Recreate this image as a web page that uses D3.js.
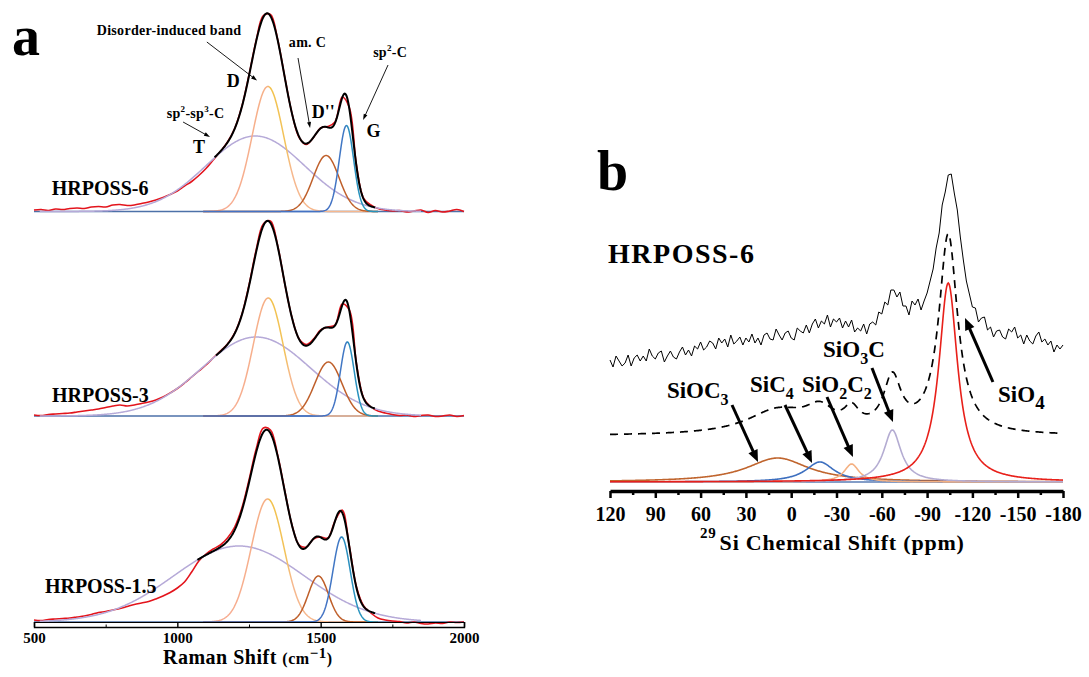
<!DOCTYPE html>
<html>
<head>
<meta charset="utf-8">
<script src="https://cdn.jsdelivr.net/npm/d3@7"></script>
<style>
  body { margin: 0; background: #fff; }
  svg text { font-family: "Liberation Serif", "Times New Roman", serif; font-weight: bold; fill: #000; }
</style>
</head>
<body>
<div id="chart"></div>
<script>
/*=============================
===DATA ==*/

// ---- panel a : Raman ----
var samples = ["HRPOSS-6", "HRPOSS-3", "HRPOSS-1.5"];
var ramanShift = d3.range(500, 2001, 25);   // measured points every 25 cm-1

var ramanMeasured6 = [1.5, 2, 1, 2.5, 2, 3, 3.5, 3, 4.5, 5,
  4.5, 6.5, 7, 6, 6.5, 8, 9.5, 11.5, 14, 17,
  20.5, 25.5, 30, 36, 43, 51.5, 60, 69.5, 83, 105,
  136.5, 171, 196, 197, 172, 134, 98, 74, 67, 74,
  83.5, 85, 89.5, 114.5, 104, 46, 13, 6.5, 3, 1.5,
  0.5, 1, -0.5, 0.5, 1.5, -1, 1, -0.5, 0.5, 2, 0];
var ramanMeasured3 = [1, 0.5, 1.5, 2, 2.5, 3, 4, 5, 6, 7,
  8.5, 10, 11, 10, 11, 12.5, 14, 16, 19, 23,
  27.5, 33, 39, 45, 51, 58, 65, 72, 83, 101.5,
  131, 166, 192, 195, 170.5, 132, 98.5, 77, 71.5, 77,
  86, 89, 91, 112, 106, 52, 18, 9, 5, 3,
  1.5, 0.5, 1, -0.5, 0.5, 1, -0.5, 0, 1, -0.5, 0.5];
var ramanMeasured15 = [2, 1.5, 2.5, 3, 3.5, 4, 5, 6, 7.5, 9.5,
  10.5, 12, 13.5, 15.5, 17.5, 19, 20.5, 23, 26, 29.5,
  34, 40, 50, 61, 68, 73, 77, 84, 95, 114,
  142, 173, 194, 192, 167, 131, 97, 77, 75, 83,
  85, 84, 101, 112, 76, 35, 16, 9, 4, 2,
  1, 0.5, -1, 0, -1.5, -2, -1, -1.5, 0, -0.5, 0];

// fitted bands T, D, D'', G : centre (cm-1), height, gaussian sigma (cm-1)
var bandNames = ["T", "D", "D''", "G"];
var bandCenters6 = [1272, 1316, 1519, 1590];
var bandHeights6 = [75.5, 125, 56, 86];
var bandSigmas6 = [172, 55, 45, 25];
var bandCenters3 = [1275, 1317, 1527, 1593];
var bandHeights3 = [79, 118, 54, 74];
var bandSigmas3 = [190, 52, 47, 24];
var bandCenters15 = [1215, 1315, 1492, 1573];
var bandHeights15 = [76, 123, 46, 85];
var bandSigmas15 = [228, 57, 35, 30];
var fitStart = [1130, 1135, 1070];
var fitEnd = 1690;

var ramanTicks = [500, 1000, 1500, 2000];
var ramanMinorTicks = [750, 1250, 1750];

// ---- panel b : 29Si NMR ----
var nmrShift = d3.range(120, -181, -2);
var nmrMeasured = [122, 115, 126, 121, 116, 119, 127, 116, 124, 127,
  121, 126, 121, 133, 126, 123, 129, 131, 120, 126,
  131, 125, 123, 130, 135, 127, 132, 126, 136, 133,
  140, 132, 135, 141, 139, 133, 144, 139, 143, 135,
  147, 138, 141, 145, 137, 144, 140, 148, 139, 144,
  137, 147, 149, 143, 142, 153, 147, 142, 149, 151,
  144, 142, 154, 151, 149, 157, 149, 158, 163, 154,
  161, 158, 167, 155, 163, 160, 164, 154, 161, 155,
  162, 150, 154, 151, 158, 148, 158, 160, 157, 170,
  168, 180, 177, 192, 192, 185, 190, 176, 176, 167,
  181, 177, 183, 172, 181, 189, 201, 213, 234, 249,
  277, 290, 307, 308, 289, 272, 245, 222, 201, 188,
  175, 174, 160, 164, 165, 152, 155, 145, 151, 152,
  145, 143, 153, 150, 155, 144, 147, 138, 147, 141,
  138, 146, 150, 140, 143, 137, 141, 130, 137, 133, 137];

// deconvoluted sites : centre (ppm), height, lorentzian half width (ppm)
var nmrSites = ["SiOC_3", "SiC_4", "SiO_2C_2", "SiO_3C", "SiO_4"];
var nmrCenters = [9, -19, -40, -67, -104];
var nmrHeights = [24, 20, 18, 52, 199];
var nmrHalfWidths = [25, 11.5, 6, 7, 7.5];
var nmrColors = ["#c0652e", "#3d6fbf", "#f4b183", "#b4acd2", "#e8201a"];
var fitOffset = 46;   // simulated envelope is shifted up

var nmrTicks = d3.range(120, -181, -30);
var nmrMinorTicks = d3.range(105, -166, -30);

/*=============================
===SVG ELEMENT ================*/
var svgWidth = 1089;
var svgHeight = 677;

var svg = d3.select("#chart")
  .append("svg")
  .attr("width", svgWidth)
  .attr("height", svgHeight);

var defs = svg.append("defs");

function gauss(x, c, h, s) { return h * Math.exp(-0.5 * Math.pow((x - c) / s, 2)); }
function lorentz(x, c, h, w) { return h / (1 + Math.pow((x - c) / w, 2)); }

// text with ^x superscripts and _x subscripts
function richText(g, str, x, y, size, small, anchor) {
  var t = g.append("text").attr("x", x).attr("y", y)
    .style("font-size", size + "px")
    .attr("text-anchor", anchor || "start");
  var parts = str.match(/(\^.|_.|[^\^_]+)/g);
  var cur = 0;
  parts.forEach(function(p) {
    var s = t.append("tspan");
    var target = 0;
    if (p[0] === "^") { target = -size * 0.42; s.text(p[1]).style("font-size", small + "px"); }
    else if (p[0] === "_") { target = size * 0.3; s.text(p[1]).style("font-size", small + "px"); }
    else { s.text(p); }
    s.attr("dy", target - cur);
    cur = target;
  });
  return t;
}

function drawArrow(g, x1, y1, x2, y2, w, headLen, headW) {
  var dx = x2 - x1, dy = y2 - y1, len = Math.sqrt(dx * dx + dy * dy);
  var ux = dx / len, uy = dy / len;
  var bx = x2 - ux * headLen, by = y2 - uy * headLen;
  g.append("line")
    .attr("x1", x1).attr("y1", y1)
    .attr("x2", bx + ux * 1.5).attr("y2", by + uy * 1.5)
    .attr("stroke", "#000").attr("stroke-width", w);
  g.append("path")
    .attr("d", "M" + x2 + "," + y2 +
      "L" + (bx - uy * headW / 2) + "," + (by + ux * headW / 2) +
      "L" + (bx + uy * headW / 2) + "," + (by - ux * headW / 2) + "Z")
    .attr("fill", "#000");
}

/*=============================
===PANEL A : RAMAN ============*/
var xA = d3.scaleLinear().domain([500, 2000]).range([34, 464]);
var traceBase = [211.5, 416, 622];
var measuredA = [ramanMeasured6, ramanMeasured3, ramanMeasured15];
var centersA = [bandCenters6, bandCenters3, bandCenters15];
var heightsA = [bandHeights6, bandHeights3, bandHeights15];
var sigmasA = [bandSigmas6, bandSigmas3, bandSigmas15];

var gA = svg.append("g").attr("class", "panelA");

samples.forEach(function(name, s) {
  var yA = d3.scaleLinear().domain([0, 200]).range([traceBase[s], traceBase[s] - 200]);
  var line = d3.line().x(d => xA(d[0])).y(d => yA(d[1]));
  var c = centersA[s], h = heightsA[s], sg = sigmasA[s];

  // gradients for the D and G bands
  var gd = defs.append("linearGradient").attr("id", "gradD" + s)
    .attr("gradientUnits", "userSpaceOnUse")
    .attr("x1", xA(c[1] - 2.5 * sg[1])).attr("x2", xA(c[1] + 2.5 * sg[1]))
    .attr("y1", 0).attr("y2", 0);
  [[0, "#f7ad92"], [0.49, "#f6b087"], [0.53, "#f2c24c"], [0.72, "#f2c25a"], [0.8, "#f6b88e"], [1, "#f6b88e"]]
    .forEach(st => gd.append("stop").attr("offset", st[0]).attr("stop-color", st[1]));
  var gg = defs.append("linearGradient").attr("id", "gradG" + s)
    .attr("gradientUnits", "userSpaceOnUse")
    .attr("x1", xA(c[3] - 2.5 * sg[3])).attr("x2", xA(c[3] + 2.5 * sg[3]))
    .attr("y1", 0).attr("y2", 0);
  [[0, "#4472c4"], [0.45, "#3f78c4"], [0.52, "#2b8dbf"], [1, "#2794bd"]]
    .forEach(st => gg.append("stop").attr("offset", st[0]).attr("stop-color", st[1]));

  // baseline
  gA.append("path")
    .attr("d", line([[500, 0], [2000, 0]]))
    .attr("fill", "none").attr("stroke", "#4d71a8").attr("stroke-width", 1.5);

  // measured spectrum
  gA.append("path")
    .datum(ramanShift.map((x, i) => [x, measuredA[s][i]]))
    .attr("d", line.curve(d3.curveCatmullRom))
    .attr("fill", "none").attr("stroke", "#e3141c").attr("stroke-width", 1.6);
  line.curve(d3.curveLinear);

  // fitted bands
  var bandColors = ["#b6aad8", "url(#gradD" + s + ")", "#bf5f2a", "url(#gradG" + s + ")"];
  bandNames.forEach(function(b, k) {
    var grid = k === 0 ? d3.range(520, 1851, 2) : d3.range(1090, 1701, 2);
    gA.append("path")
      .datum(grid.map(x => [x, gauss(x, c[k], h[k], sg[k])]))
      .attr("d", line)
      .attr("fill", "none").attr("stroke", bandColors[k]).attr("stroke-width", 1.5);
  });

  // cumulative fit
  gA.append("path")
    .datum(d3.range(fitStart[s], fitEnd + 1, 2).map(x => [x, d3.sum(c, (cc, k) => gauss(x, cc, h[k], sg[k]))]))
    .attr("d", line)
    .attr("fill", "none").attr("stroke", "#000").attr("stroke-width", 2);
});

// sample names
var sampleLabelX = [562, 563, 538];
var sampleLabelY = [16.5, 14, 28.7];
samples.forEach(function(name, s) {
  var yA = d3.scaleLinear().domain([0, 200]).range([traceBase[s], traceBase[s] - 200]);
  gA.append("text")
    .attr("x", xA(sampleLabelX[s])).attr("y", yA(sampleLabelY[s]))
    .style("font-size", "20px")
    .text(name);
});

// band annotations on the top trace
var yTop = d3.scaleLinear().domain([0, 200]).range([traceBase[0], traceBase[0] - 200]);
var bandLabelPos = [[1055, 58.2], [1172, 124.2], [1469, 93.2], [1660, 74.8]];
bandNames.forEach(function(b, k) {
  gA.append("text")
    .attr("x", xA(bandLabelPos[k][0])).attr("y", yTop(bandLabelPos[k][1]))
    .style("font-size", "18px")
    .text(b);
});

var noteText = ["Disorder-induced band", "am. C", "sp^2-C", "sp^2-sp^3-C"];
var notePos = [[719, 176.5], [1389, 164.8], [1683, 154.8], [963, 93.2]];
var noteFrom = [[1103, 169.5], [1421, 153.5], [1735, 146.5], [1020, 89.5]];
var noteTo = [[1278, 131], [1463, 83.5], [1648, 91.5], [1114, 74.5]];
noteText.forEach(function(t, k) {
  richText(gA, t, xA(notePos[k][0]), yTop(notePos[k][1]), 14, 9).style("letter-spacing", "0.3px");
  drawArrow(gA, xA(noteFrom[k][0]), yTop(noteFrom[k][1]), xA(noteTo[k][0]), yTop(noteTo[k][1]), 0.9, 6, 4);
});

// axis
var axisA = gA.append("g")
  .attr("transform", "translate(0,627)")
  .call(d3.axisBottom(xA).tickValues(ramanTicks).tickSizeInner(-5).tickSizeOuter(-5).tickPadding(5).tickFormat(d3.format("d")));
axisA.select(".domain").attr("stroke-width", 1.4);
axisA.selectAll(".tick line").attr("stroke-width", 1.4);
axisA.selectAll("text").style("font-size", "15px").style("font-family", "Liberation Serif, serif").style("font-weight", "bold");
gA.append("g")
  .attr("transform", "translate(0,627)")
  .call(d3.axisBottom(xA).tickValues(ramanMinorTicks).tickSize(-2.5).tickFormat(""))
  .call(g => g.select(".domain").remove());
gA.append("line")
  .attr("x1", xA(500)).attr("x2", xA(2000))
  .attr("y1", 622.5).attr("y2", 622.5)
  .attr("stroke", "#000").attr("stroke-width", 1);

var titleA = gA.append("text").attr("x", 163).attr("y", 664).style("letter-spacing", "0.5px");
titleA.append("tspan").style("font-size", "20px").text("Raman Shift ");
titleA.append("tspan").style("font-size", "16px").text("(cm");
titleA.append("tspan").style("font-size", "15px").attr("dy", -6).text("\u22121");
titleA.append("tspan").style("font-size", "16px").attr("dy", 6).text(")");

svg.append("text").attr("x", 12).attr("y", 55).style("font-size", "56px").text("a");

/*=============================
===PANEL B : 29Si NMR =========*/
var xB = d3.scaleLinear().domain([120, -180]).range([610, 1063]);
var yB = d3.scaleLinear().domain([0, 320]).range([482, 162]);
var lineB = d3.line().x(d => xB(d[0])).y(d => yB(d[1]));
var gB = svg.append("g").attr("class", "panelB");
var fineGrid = d3.range(120, -180.01, -0.5);

// measured spectrum
gB.append("path")
  .datum(nmrShift.map((x, i) => [x, nmrMeasured[i]]))
  .attr("d", lineB)
  .attr("fill", "none").attr("stroke", "#000").attr("stroke-width", 1);

// simulated envelope
gB.append("path")
  .datum(fineGrid.map(x => [x, fitOffset + d3.sum(nmrCenters, (c, k) => lorentz(x, c, nmrHeights[k], nmrHalfWidths[k]))]))
  .attr("d", lineB)
  .attr("fill", "none").attr("stroke", "#000").attr("stroke-width", 1.7)
  .attr("stroke-dasharray", "8,6");

// baseline + sites
gB.append("path")
  .attr("d", lineB([[120, 0], [-180, 0]]))
  .attr("fill", "none").attr("stroke", "#5a7db5").attr("stroke-width", 1.5);
nmrSites.forEach(function(site, k) {
  gB.append("path")
    .datum(fineGrid.map(x => [x, lorentz(x, nmrCenters[k], nmrHeights[k], nmrHalfWidths[k])]))
    .attr("d", lineB)
    .attr("fill", "none").attr("stroke", nmrColors[k]).attr("stroke-width", 1.6);
});

// site labels and arrows
var siteLabelPos = [[82.3, 84], [27.3, 90], [-7.2, 90], [-21.1, 125], [-137, 80]];
var siteArrowFrom = [[39.2, 77], [4.1, 77], [-23.7, 85], [-53.5, 114], [-133.6, 100]];
var siteArrowTo = [[22, 20], [-13.8, 19], [-40.9, 25], [-67.4, 60], [-115.1, 164]];
nmrSites.forEach(function(site, k) {
  richText(gB, site, xB(siteLabelPos[k][0]), yB(siteLabelPos[k][1]), 23, k === 4 ? 19 : 16);
  drawArrow(gB, xB(siteArrowFrom[k][0]), yB(siteArrowFrom[k][1]), xB(siteArrowTo[k][0]), yB(siteArrowTo[k][1]), 3, 12, 10);
});

gB.append("text")
  .attr("x", xB(121.3)).attr("y", yB(219))
  .style("font-size", "28px").style("letter-spacing", "1.5px")
  .text("HRPOSS-6");

// axis
var axisB = gB.append("g")
  .attr("transform", "translate(0,491)")
  .call(d3.axisBottom(xB).tickValues(nmrTicks).tickSize(7).tickSizeOuter(0).tickPadding(9).tickFormat(d => String(d)));
axisB.select(".domain").attr("stroke-width", 3.5);
axisB.selectAll(".tick line").attr("stroke-width", 2.5);
axisB.selectAll("text").style("font-size", "20px").style("font-family", "Liberation Serif, serif").style("font-weight", "bold");
gB.append("g")
  .attr("transform", "translate(0,491)")
  .call(d3.axisBottom(xB).tickValues(nmrMinorTicks).tickSize(4).tickFormat(""))
  .call(g => g.select(".domain").remove())
  .selectAll("line").attr("stroke-width", 2.5);

var titleB = gB.append("text").attr("x", 700).attr("y", 550).style("letter-spacing", "0.8px");
titleB.append("tspan").style("font-size", "15px").attr("dy", -12).text("29");
titleB.append("tspan").style("font-size", "22px").attr("dy", 12).attr("dx", 3).text("Si Chemical Shift (ppm)");

svg.append("text").attr("x", 597).attr("y", 190).style("font-size", "56px").text("b");
</script>
</body>
</html>
